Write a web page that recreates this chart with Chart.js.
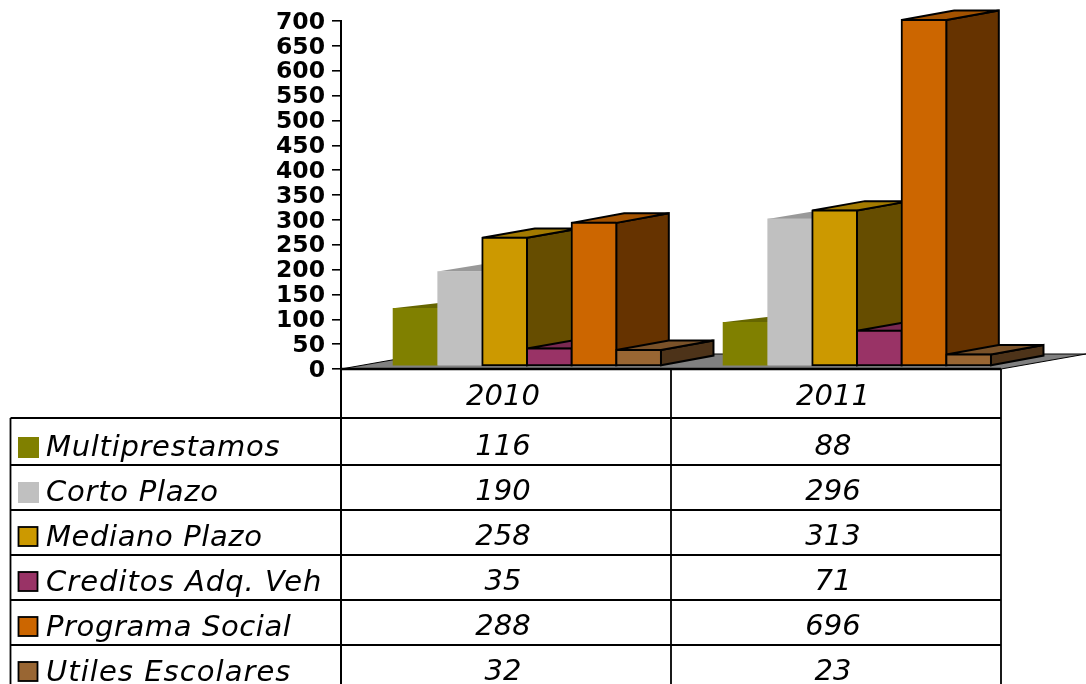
<!DOCTYPE html>
<html><head><meta charset="utf-8">
<style>html,body{margin:0;padding:0;background:#fff}#w{width:1086px;height:684px;position:relative}</style>
<script src="https://cdn.jsdelivr.net/npm/chart.js@4"></script>
</head><body><div id="w"><canvas id="c" width="1086" height="684"></canvas></div>
<script>
const categories = ["2010", "2011"];
const seriesNames = ["Multiprestamos", "Corto Plazo", "Mediano Plazo", "Creditos Adq. Veh", "Programa Social", "Utiles Escolares"];
const multiprestamos = [116, 88];
const cortoPlazo = [190, 296];
const medianoPlazo = [258, 313];
const creditosAdqVeh = [35, 71];
const programaSocial = [288, 696];
const utilesEscolares = [32, 23];
const seriesValues = [multiprestamos, cortoPlazo, medianoPlazo, creditosAdqVeh, programaSocial, utilesEscolares];

const frontColors = ["#808000", "#C0C0C0", "#CC9900", "#993366", "#CC6600", "#996633"];
const topColors   = ["#666600", "#999999", "#A37A00", "#7A2952", "#A35200", "#7A5229"];
const sideColors  = ["#666600", "#999999", "#664D00", "#4D1A33", "#663300", "#4D3319"];
const outlined    = [false, false, true, true, true, true];
const depthRise   = [6.2, 8.6, 9.3, 9.3, 9.6, 9.6];
const nameSpacing = [0.7, 0.75, 0.6, 1, 0.6, 1.05];
const DEPTH_X = 52.5, SHIFT_X = 21, SHIFT_Y = -3;
const FONT = '"DejaVu Sans"';
const ITALIC = 'italic 29px ' + FONT;

function poly(ctx, pts, fill, stroke) {
  ctx.beginPath();
  pts.forEach((p, i) => i ? ctx.lineTo(p[0], p[1]) : ctx.moveTo(p[0], p[1]));
  ctx.closePath();
  ctx.fillStyle = fill; ctx.fill();
  if (stroke) { ctx.strokeStyle = '#000'; ctx.lineWidth = 2; ctx.lineJoin = 'miter'; ctx.stroke(); }
}
function hline(ctx, x0, x1, y, w) { ctx.lineWidth = w; ctx.beginPath(); ctx.moveTo(x0, y); ctx.lineTo(x1, y); ctx.stroke(); }
function vline(ctx, x, y0, y1, w) { ctx.lineWidth = w; ctx.beginPath(); ctx.moveTo(x, y0); ctx.lineTo(x, y1); ctx.stroke(); }

const threeD = {
  id: 'threeD',
  beforeDatasetDraw() { return false; },
  beforeDatasetsDraw(chart) {
    const { ctx, scales: { x, y } } = chart;
    const base = y.getPixelForValue(0);
    ctx.save();
    ctx.strokeStyle = '#000';
    poly(ctx, [[x.left, base], [x.right, base], [x.right + 85, base - 15], [x.left + 85, base - 15]], '#808080', false);
    ctx.lineWidth = 1;
    ctx.stroke();
    ctx.translate(SHIFT_X, SHIFT_Y);
    seriesNames.forEach((n, i) => {
      const rise = depthRise[i], st = outlined[i];
      chart.getDatasetMeta(i).data.forEach(b => {
        const l = b.x - b.width / 2, r = b.x + b.width / 2, t = b.y, bt = b.base;
        poly(ctx, [[r, t], [r + DEPTH_X, t - rise], [r + DEPTH_X, bt - rise], [r, bt]], sideColors[i], st);
        poly(ctx, [[l, t], [l + DEPTH_X, t - rise], [r + DEPTH_X, t - rise], [r, t]], topColors[i], st);
        b.draw(ctx);
      });
    });
    ctx.restore();
  },
  afterDraw(chart) {
    const { ctx, scales: { x, y } } = chart;
    const base = y.getPixelForValue(0);
    const tableLeft = 10.5, colA = x.left, colB = x.right, mid = (colA + colB) / 2;
    const rowLines = [418, 465, 510, 555, 600, 645];
    const baselines = [456, 501, 546, 591, 636, 681];
    ctx.save();
    ctx.strokeStyle = '#000';
    hline(ctx, colA, colB, base, 2.4);
    rowLines.forEach(yy => hline(ctx, tableLeft, colB, yy, 1.8));
    vline(ctx, tableLeft, 418, 684, 1.8);
    vline(ctx, colA, base, 684, 2);
    vline(ctx, mid, base, 684, 1.8);
    vline(ctx, colB, base, 684, 1.8);
    seriesNames.forEach((name, i) => {
      const by = baselines[i];
      if (outlined[i]) {
        ctx.fillStyle = frontColors[i];
        ctx.fillRect(18.5, by - 19, 19, 19);
        ctx.lineWidth = 1.8; ctx.strokeRect(18.5, by - 19, 19, 19);
      } else {
        ctx.fillStyle = frontColors[i];
        ctx.fillRect(18, by - 19, 21, 21);
      }
      ctx.fillStyle = '#000';
      ctx.font = ITALIC;
      ctx.textBaseline = 'alphabetic';
      ctx.textAlign = 'left';
      ctx.letterSpacing = nameSpacing[i] + 'px';
      ctx.fillText(name, 46, by);
      ctx.letterSpacing = '0px';
      ctx.textAlign = 'center';
      seriesValues[i].forEach((v, c) => ctx.fillText(String(v), x.getPixelForTick(c) - 3, by - 1));
    });
    ctx.restore();
  }
};

new Chart(document.getElementById('c'), {
  type: 'bar',
  data: {
    labels: categories,
    datasets: seriesNames.map((n, i) => ({
      label: n,
      data: seriesValues[i],
      backgroundColor: frontColors[i],
      borderColor: outlined[i] ? '#000' : frontColors[i],
      borderWidth: outlined[i] ? 2 : 0,
      borderSkipped: false,
      inflateAmount: outlined[i] ? 1 : 0.3,
      clip: false,
      categoryPercentage: 0.812,
      barPercentage: 1
    }))
  },
  plugins: [threeD],
  options: {
    responsive: false,
    animation: false,
    devicePixelRatio: 1,
    layout: { padding: { top: 20, right: 85, bottom: 266, left: 0 } },
    plugins: { legend: { display: false }, tooltip: { enabled: false }, title: { display: false } },
    scales: {
      x: {
        offset: true,
        afterFit(s) { s.height = 49; },
        grid: { display: false, drawTicks: false },
        border: { display: false },
        ticks: { color: '#000', padding: 11, labelOffset: -3, maxRotation: 0, font: { family: FONT, size: 29, style: 'italic' } }
      },
      y: {
        min: 0, max: 700,
        afterFit(s) { s.width = 341; },
        grid: { drawOnChartArea: false, color: '#000', tickLength: 9, lineWidth: 1.6 },
        border: { color: '#000', width: 2 },
        ticks: { stepSize: 50, autoSkip: false, color: '#000', padding: 7, labelOffset: 1.5, font: { family: FONT, size: 23.5, weight: 'bold' } }
      }
    }
  }
});
</script></body></html>
